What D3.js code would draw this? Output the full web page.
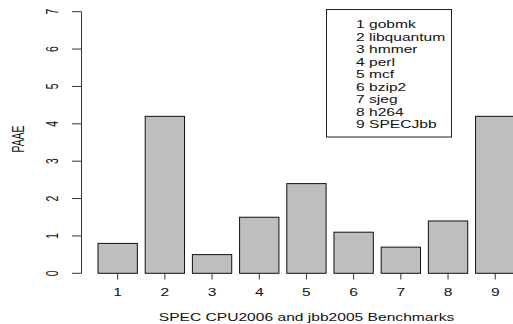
<!DOCTYPE html>
<html>
<head>
<meta charset="utf-8">
<script src="https://cdn.jsdelivr.net/npm/d3@7"></script>
<style>
  body { margin: 0; background: #fff; }
  text { font-family: "Liberation Sans", Arial, sans-serif; fill: #111; }
</style>
</head>
<body>
<div id="chart"></div>
<script>
// data
var benchmarks = ["1", "2", "3", "4", "5", "6", "7", "8", "9"];
var names = ["gobmk", "libquantum", "hmmer", "perl", "mcf", "bzip2", "sjeg", "h264", "SPECJbb"];
var paae = [0.8, 4.2, 0.5, 1.5, 2.4, 1.1, 0.7, 1.4, 4.2];
var yTicks = [0, 1, 2, 3, 4, 5, 6, 7];

var width = 513, height = 324;
var fs = 10.4, sx = 1.5;   // text is stretched sideways in the original

var svg = d3.select("#chart").append("svg")
    .attr("width", width)
    .attr("height", height);

var y = d3.scaleLinear().domain([0, 7]).range([273.3, 11.7]);
var x = d3.scaleBand().domain(benchmarks)
    .range([98, 514.9])
    .paddingInner(1 / 6)
    .paddingOuter(0);

// bars
svg.selectAll(".bar")
    .data(paae)
    .enter().append("rect")
    .attr("class", "bar")
    .attr("x", function(d, i) { return x(benchmarks[i]); })
    .attr("y", function(d) { return y(d); })
    .attr("width", x.bandwidth())
    .attr("height", function(d) { return y(0) - y(d); })
    .attr("fill", "#bebebe")
    .attr("stroke", "#111")
    .attr("stroke-width", 1);

// helper for stretched text
function stretched(g, tx, ty, str, rot) {
  var t = g.append("g")
      .attr("transform", "translate(" + tx + "," + ty + ") scale(" + sx + ",1)" + (rot ? " rotate(-90)" : ""))
      .append("text")
      .attr("text-anchor", "middle")
      .attr("dominant-baseline", "central")
      .style("font-size", fs + "px")
      .text(str);
  return t;
}

// y axis
var ya = svg.append("g").attr("transform", "translate(81.5,0)");
ya.append("line")
    .attr("y1", y(0)).attr("y2", y(7))
    .attr("stroke", "#333");
ya.selectAll(".tick")
    .data(yTicks)
    .enter().append("line")
    .attr("x1", -9.5).attr("x2", 0)
    .attr("y1", function(d) { return y(d); })
    .attr("y2", function(d) { return y(d); })
    .attr("stroke", "#333");
yTicks.forEach(function(d) { stretched(svg, 53, y(d), d, true); });

// x axis ticks (no axis line, like R barplot)
svg.selectAll(".xtick")
    .data(benchmarks)
    .enter().append("line")
    .attr("x1", function(d) { return x(d) + x.bandwidth() / 2; })
    .attr("x2", function(d) { return x(d) + x.bandwidth() / 2; })
    .attr("y1", 273.5).attr("y2", 279.5)
    .attr("stroke", "#333");
benchmarks.forEach(function(d) { stretched(svg, x(d) + x.bandwidth() / 2, 292, d, false); });

// axis titles
stretched(svg, 306.5, 317, "SPEC CPU2006 and jbb2005 Benchmarks", false);
stretched(svg, 19, 139, "PAAE", true);

// legend
svg.append("rect")
    .attr("x", 326.5).attr("y", 9.5)
    .attr("width", 125).attr("height", 127.5)
    .attr("fill", "none")
    .attr("stroke", "#222");
names.forEach(function(n, i) {
  svg.append("g")
    .attr("transform", "translate(356," + (24.5 + i * 12.5) + ") scale(" + sx + ",1)")
    .append("text")
    .attr("dominant-baseline", "central")
    .style("font-size", fs + "px")
    .text(benchmarks[i] + " " + n);
});
</script>
</body>
</html>
